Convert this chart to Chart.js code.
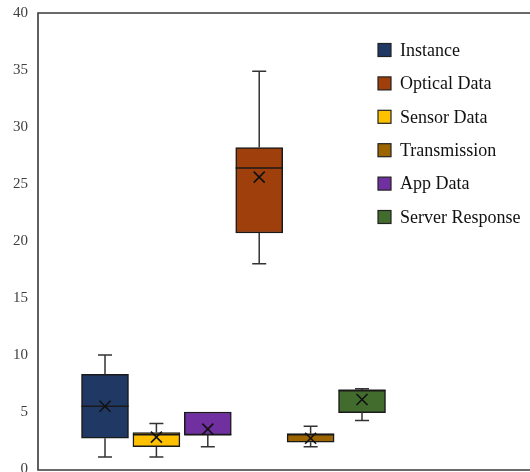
<!DOCTYPE html>
<html>
<head>
<meta charset="utf-8">
<script src="https://cdn.jsdelivr.net/npm/chart.js@4.4.1/dist/chart.umd.min.js"></script>
<style>
  html, body { margin: 0; padding: 0; background: #fff; }
  #wrap { width: 530px; height: 472px; }
</style>
</head>
<body>
<div id="wrap"><canvas id="c" width="530" height="472"></canvas></div>
<script>
// Box-and-whisker summary for each data source (left to right on the plot)
const categories = ['Instance', 'Sensor Data', 'App Data', 'Optical Data', 'Transmission', 'Server Response'];
const slots      = [1, 2, 3, 4, 5, 6];
const minValues  = [1.05, 1.05, 1.95, 18.0, 1.95, 4.25];
const q1Values   = [2.7, 1.95, 3.0, 20.7, 2.35, 4.95];
const medians    = [5.5, 3.0, 3.0, 26.4, 3.0, 6.9];
const q3Values   = [8.3, 3.2, 5.0, 28.2, 3.1, 6.9];
const maxValues  = [10.0, 4.0, 5.0, 34.9, 3.75, 7.05];
const means      = [5.5, 2.8, 3.5, 25.6, 2.7, 6.1];
const colors     = ['#1F3864', '#FFC000', '#7030A0', '#9E3F0C', '#9C6500', '#426B2E'];
const legendOrder = ['Instance', 'Optical Data', 'Sensor Data', 'Transmission', 'App Data', 'Server Response'];
const yTicks = [0, 5, 10, 15, 20, 25, 30, 35, 40];

const SERIF = '"Liberation Serif", "Times New Roman", serif';

const boxPlugin = {
  id: 'boxExtras',
  afterDatasetsDraw(chart) {
    const { ctx, scales: { x, y } } = chart;
    ctx.save();
    ctx.lineCap = 'butt';
    slots.forEach((s, i) => {
      const cx = x.getPixelForValue(s);
      const yMin = y.getPixelForValue(minValues[i]);
      const yMax = y.getPixelForValue(maxValues[i]);
      const yQ1 = y.getPixelForValue(q1Values[i]);
      const yQ3 = y.getPixelForValue(q3Values[i]);
      const yMed = y.getPixelForValue(medians[i]);
      const yMean = y.getPixelForValue(means[i]);
      const half = 23.5;
      // whiskers and caps
      ctx.strokeStyle = '#333';
      ctx.lineWidth = 1.5;
      ctx.beginPath();
      if (maxValues[i] > q3Values[i]) {
        ctx.moveTo(cx, yQ3); ctx.lineTo(cx, yMax);
        ctx.moveTo(cx - 7, yMax); ctx.lineTo(cx + 7, yMax);
      }
      if (minValues[i] < q1Values[i]) {
        ctx.moveTo(cx, yQ1); ctx.lineTo(cx, yMin);
        ctx.moveTo(cx - 7, yMin); ctx.lineTo(cx + 7, yMin);
      }
      ctx.stroke();
      // median line
      ctx.strokeStyle = '#1a1a1a';
      ctx.beginPath();
      ctx.moveTo(cx - half, yMed); ctx.lineTo(cx + half, yMed);
      ctx.stroke();
      // mean marker
      const m = 5.5;
      ctx.strokeStyle = '#111';
      ctx.lineWidth = 1.6;
      ctx.beginPath();
      ctx.moveTo(cx - m, yMean - m); ctx.lineTo(cx + m, yMean + m);
      ctx.moveTo(cx + m, yMean - m); ctx.lineTo(cx - m, yMean + m);
      ctx.stroke();
    });
    ctx.restore();
  },
  afterDraw(chart) {
    const { ctx, chartArea: a } = chart;
    ctx.save();
    // plot frame (left, top, bottom)
    ctx.strokeStyle = '#3a3a3a';
    ctx.lineWidth = 1.6;
    ctx.beginPath();
    ctx.moveTo(a.right + 2, a.top);
    ctx.lineTo(a.left, a.top);
    ctx.lineTo(a.left, a.bottom + 1);
    ctx.lineTo(a.right + 2, a.bottom + 1);
    ctx.stroke();
    // legend
    const lx = 378, ly0 = 50, step = 33.4, sq = 13;
    ctx.font = '18px ' + SERIF;
    ctx.textBaseline = 'middle';
    legendOrder.forEach((name, k) => {
      const i = categories.indexOf(name);
      const cy = ly0 + k * step;
      ctx.fillStyle = colors[i];
      ctx.fillRect(lx, cy - sq / 2, sq, sq);
      ctx.strokeStyle = '#222';
      ctx.lineWidth = 1.2;
      ctx.strokeRect(lx, cy - sq / 2, sq, sq);
      ctx.fillStyle = '#111';
      ctx.fillText(name, 400, cy + 1);
    });
    ctx.restore();
  }
};

new Chart(document.getElementById('c'), {
  type: 'bar',
  data: {
    datasets: [{
      label: 'Boxes',
      data: slots.map((s, i) => ({ x: s, y: [q1Values[i], q3Values[i]] })),
      backgroundColor: colors,
      borderColor: '#1a1a1a',
      borderWidth: 1.5,
      borderSkipped: false,
      barThickness: 47
    }]
  },
  options: {
    responsive: false,
    animation: false,
    layout: { padding: { top: 13, bottom: 3, left: 0, right: 0 } },
    plugins: { legend: { display: false }, tooltip: { enabled: false } },
    scales: {
      x: {
        type: 'linear',
        display: false,
        offset: false,
        min: -0.3035,
        max: 9.268
      },
      y: {
        min: 0,
        max: 40,
        afterFit(scale) {
          scale.width = 38;
          scale.paddingTop = 0;
          scale.paddingBottom = 0;
        },
        afterBuildTicks(scale) { scale.ticks = yTicks.map(v => ({ value: v })); },
        grid: { display: false, drawTicks: false },
        border: { display: false },
        ticks: {
          padding: 10,
          color: '#404040',
          font: { family: SERIF, size: 15 }
        }
      }
    }
  },
  plugins: [boxPlugin]
});
</script>
</body>
</html>
